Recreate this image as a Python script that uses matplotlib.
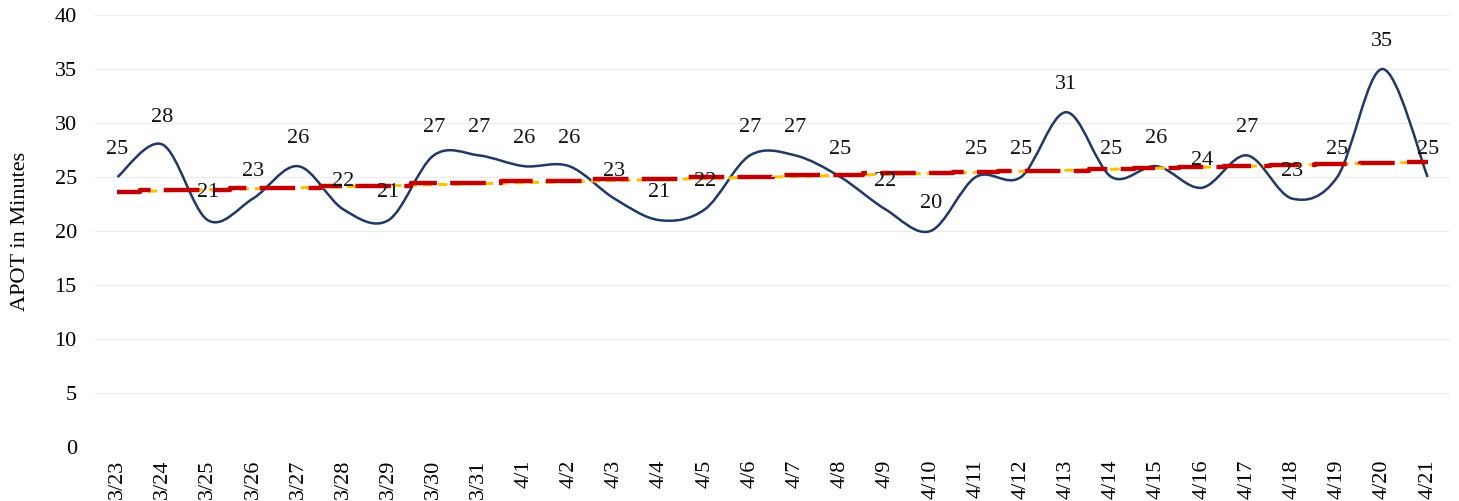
import matplotlib
matplotlib.use("Agg")
import matplotlib.pyplot as plt
import numpy as np
from matplotlib.path import Path
from matplotlib.patches import PathPatch

plt.rcParams['font.family'] = ['Liberation Serif', 'DejaVu Serif']

days = ["3/23", "3/24", "3/25", "3/26", "3/27", "3/28", "3/29", "3/30", "3/31",
        "4/1", "4/2", "4/3", "4/4", "4/5", "4/6", "4/7", "4/8", "4/9", "4/10",
        "4/11", "4/12", "4/13", "4/14", "4/15", "4/16", "4/17", "4/18", "4/19",
        "4/20", "4/21"]
apot = [25, 28, 21, 23, 26, 22, 21, 27, 27, 26, 26, 23, 21, 22, 27, 27, 25,
        22, 20, 25, 25, 31, 25, 26, 24, 27, 23, 25, 35, 25]
# rounded trend values as shown by the red dashed series
trend_rounded = [23.6, 23.8, 23.8, 24.0, 24.0, 24.2, 24.2, 24.4, 24.4, 24.6,
                 24.6, 24.8, 24.8, 25.0, 25.0, 25.2, 25.2, 25.4, 25.4, 25.5,
                 25.6, 25.6, 25.7, 25.8, 25.9, 26.0, 26.1, 26.2, 26.3, 26.4]

x = np.arange(len(days))
y = np.array(apot, dtype=float)

fig, ax = plt.subplots(figsize=(14.59, 5.01), dpi=100)
fig.subplots_adjust(left=0.065, right=0.994, top=0.97, bottom=0.108)

# smoothed line (Catmull-Rom style bezier, like Excel's smoothing)
t = 1 / 6
verts = [(x[0], y[0])]
codes = [Path.MOVETO]
for i in range(len(x) - 1):
    x0, y0 = (x[i - 1], y[i - 1]) if i > 0 else (x[i], y[i])
    x3, y3 = (x[i + 2], y[i + 2]) if i + 2 < len(x) else (x[i + 1], y[i + 1])
    c1 = (x[i] + (x[i + 1] - x0) * t, y[i] + (y[i + 1] - y0) * t)
    c2 = (x[i + 1] - (x3 - x[i]) * t, y[i + 1] - (y3 - y[i]) * t)
    verts += [c1, c2, (x[i + 1], y[i + 1])]
    codes += [Path.CURVE4] * 3
ax.add_patch(PathPatch(Path(verts, codes), fill=False, edgecolor='#203864',
                       lw=1.8, zorder=3, capstyle='butt'))

# linear trendline
coef = np.polyfit(x, y, 1)
ax.plot(x, np.polyval(coef, x), color='#FFC000', lw=2.2,
        dashes=(3, 2), zorder=4)
ax.plot(x, trend_rounded, color='#C00000', lw=3.2, dashes=(8, 3),
        drawstyle='steps-mid', zorder=5)

for xi, yi in zip(x, apot):
    ax.annotate(str(yi), (xi, yi), xytext=(0, 13), textcoords='offset points',
                ha='center', va='bottom', fontsize=16, color='#111111', zorder=6)

ax.set_xlim(-0.5, len(days) - 0.5)
ax.set_ylim(0, 40)
ax.set_yticks(range(0, 41, 5))
ax.set_xticks(x)
ax.set_xticklabels(days, rotation=90, fontsize=16)
ax.tick_params(axis='y', labelsize=16, length=0, pad=13)
ax.tick_params(axis='x', length=0, pad=9)
ax.grid(axis='y', color='#EDEDED', lw=1)
ax.set_axisbelow(True)
for s in ax.spines.values():
    s.set_visible(False)
ax.set_ylabel("APOT in Minutes", fontsize=16, labelpad=18)

fig.savefig("out.png", dpi=100)
